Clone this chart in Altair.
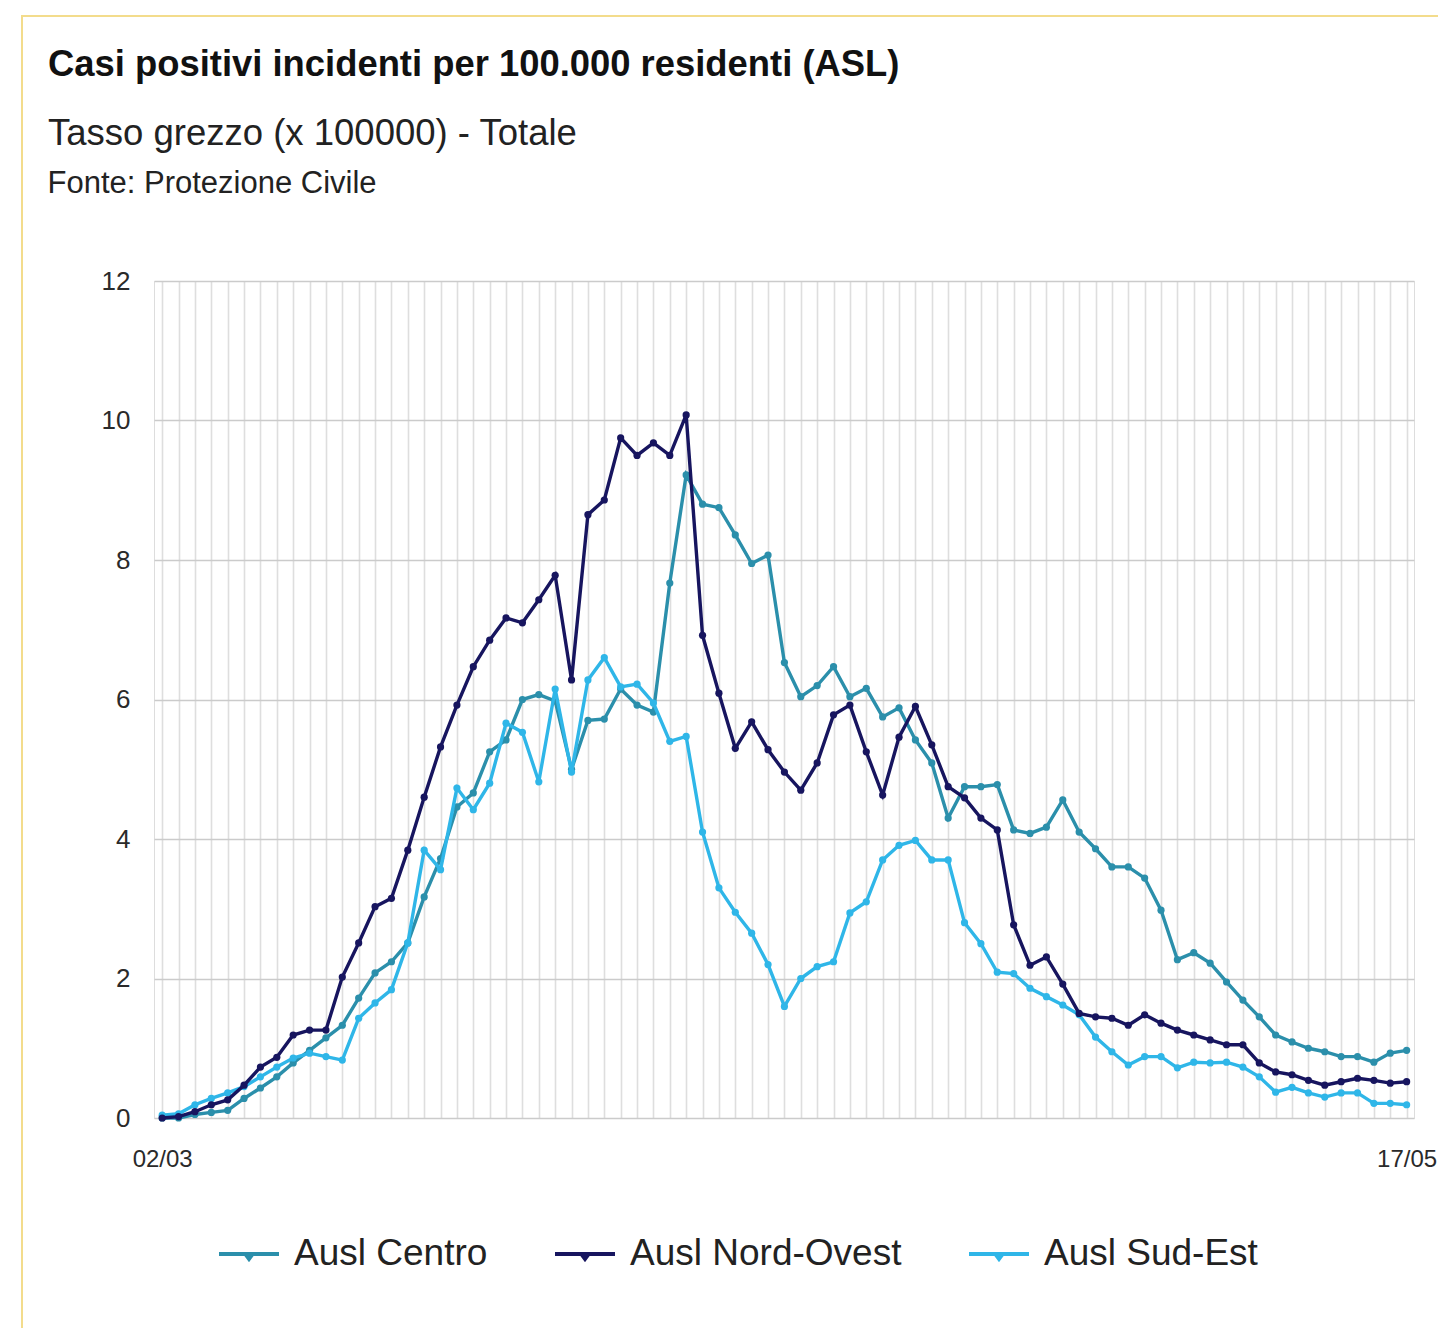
import altair as alt
import pandas as pd

# ---- data ----
series_names = ["Ausl Centro", "Ausl Nord-Ovest", "Ausl Sud-Est"]
series_colors = ["#2b8fab", "#17155f", "#2fb6e8"]

dates = pd.date_range("2020-03-02", "2020-05-17", freq="D").strftime("%d/%m").tolist()
x_tick_labels = ["02/03", "17/05"]
y_ticks = [0, 2, 4, 6, 8, 10, 12]

centro = [0.0, 0.0, 0.05, 0.08, 0.11, 0.28, 0.43, 0.59, 0.79, 0.97,
          1.15, 1.33, 1.72, 2.08, 2.24, 2.51, 3.17, 3.72, 4.46, 4.66,
          5.25, 5.42, 6.0, 6.07, 5.98, 5.0, 5.7, 5.72, 6.15, 5.92,
          5.82, 7.67, 9.22, 8.8, 8.75, 8.36, 7.95, 8.07, 6.53, 6.04,
          6.2, 6.47, 6.04, 6.16, 5.75, 5.88, 5.42, 5.09, 4.3, 4.75,
          4.75, 4.78, 4.13, 4.08, 4.17, 4.56, 4.1, 3.86, 3.6, 3.6,
          3.44, 2.98, 2.27, 2.37, 2.22, 1.95, 1.69, 1.45, 1.19, 1.09,
          1.0, 0.95, 0.88, 0.88, 0.8, 0.93, 0.97]

nord_ovest = [0.0, 0.02, 0.09, 0.19, 0.26, 0.47, 0.73, 0.87, 1.19, 1.26,
              1.26, 2.02, 2.51, 3.03, 3.15, 3.84, 4.6, 5.32, 5.92, 6.47,
              6.85, 7.17, 7.1, 7.43, 7.78, 6.28, 8.65, 8.86, 9.75, 9.5,
              9.68, 9.5, 10.08, 6.92, 6.09, 5.3, 5.68, 5.28, 4.96, 4.7,
              5.09, 5.78, 5.92, 5.25, 4.63, 5.46, 5.9, 5.35, 4.75, 4.59,
              4.3, 4.13, 2.77, 2.19, 2.31, 1.92, 1.5, 1.45, 1.43, 1.33,
              1.48, 1.36, 1.26, 1.19, 1.12, 1.05, 1.05, 0.79, 0.66, 0.62,
              0.54, 0.47, 0.52, 0.57, 0.54, 0.5, 0.52]

sud_est = [0.04, 0.06, 0.19, 0.28, 0.36, 0.45, 0.59, 0.73, 0.86, 0.93,
           0.88, 0.83, 1.43, 1.65, 1.84, 2.51, 3.84, 3.56, 4.73, 4.42,
           4.8, 5.66, 5.53, 4.82, 6.15, 4.96, 6.28, 6.6, 6.18, 6.22,
           5.95, 5.4, 5.47, 4.1, 3.3, 2.95, 2.65, 2.2, 1.6, 2.0,
           2.17, 2.24, 2.94, 3.1, 3.7, 3.91, 3.98, 3.7, 3.7, 2.8,
           2.5, 2.09, 2.07, 1.86, 1.74, 1.62, 1.48, 1.16, 0.95, 0.76,
           0.88, 0.88, 0.72, 0.8, 0.79, 0.8, 0.73, 0.59, 0.37, 0.44,
           0.36, 0.3, 0.36, 0.36, 0.21, 0.21, 0.19]

values_by_series = {
    "Ausl Centro": centro,
    "Ausl Nord-Ovest": nord_ovest,
    "Ausl Sud-Est": sud_est,
}

rows = []
for name, vals in values_by_series.items():
    for i, v in enumerate(vals):
        rows.append({"serie": name, "giorno": i, "data": dates[i], "valore": v})
df = pd.DataFrame(rows)

FONT = "Liberation Sans"
n_days = len(dates)

label_expr = (
    f"datum.value == 0 ? '{x_tick_labels[0]}' : "
    f"datum.value == {n_days - 1} ? '{x_tick_labels[1]}' : ''"
)

x_enc = alt.X(
    "giorno:Q",
    scale=alt.Scale(domain=[-0.5, n_days - 0.55], nice=False, zero=False),
    axis=alt.Axis(
        values=list(range(n_days)),
        labelExpr=label_expr,
        labelOverlap=False,
        grid=True,
        gridColor="#dedede",
        gridWidth=1.6,
        ticks=False,
        domain=False,
        labelFontSize=24,
        labelColor="#2a2a2a",
        labelFont=FONT,
        labelPadding=29,
        title=None,
    ),
)
y_enc = alt.Y(
    "valore:Q",
    scale=alt.Scale(domain=[0, 12], nice=False),
    axis=alt.Axis(
        values=y_ticks,
        grid=True,
        gridColor="#cbcbcb",
        gridWidth=1.4,
        ticks=False,
        domain=False,
        labelFontSize=26,
        labelColor="#2a2a2a",
        labelFont=FONT,
        labelPadding=24,
        title="Fonte: Protezione Civile",
        titleAngle=0,
        titleX=-107,
        titleY=-98,
        titleAlign="left",
        titleBaseline="middle",
        titleFontSize=31,
        titleFontWeight="normal",
        titleColor="#222222",
        titleFont=FONT,
    ),
)

color_scale = alt.Scale(domain=series_names, range=series_colors)

border = alt.Chart(pd.DataFrame({"k": [0]})).mark_rect(
    fill=None, stroke="#f3dc8c", strokeWidth=2
).encode(
    x=alt.value(-132), x2=alt.value(1400), y=alt.value(-265), y2=alt.value(1200)
)

layers = [border]
draw_order = ["Ausl Centro", "Ausl Sud-Est", "Ausl Nord-Ovest"]
for k, name in enumerate(draw_order):
    sub = df[df["serie"] == name]
    base = alt.Chart(sub)
    line = base.mark_line(strokeWidth=3.4).encode(
        x=x_enc,
        y=y_enc,
        color=alt.Color(
            "serie:N",
            scale=color_scale,
            legend=alt.Legend(
                orient="none",
                legendX=63,
                legendY=941,
                direction="horizontal",
                title=None,
                symbolType="M-1,0H1M-0.12,0L0.12,0L0,0.16Z",
                symbolSize=3600,
                symbolStrokeWidth=4,
                labelFontSize=37,
                labelFont=FONT,
                labelColor="#222222",
                labelOffset=13,
                labelLimit=0,
                columnPadding=59,
                padding=0,
            ),
        ),
    )
    pts = base.mark_point(filled=True, size=52, opacity=1).encode(
        x=x_enc,
        y=y_enc,
        color=alt.Color("serie:N", scale=color_scale, legend=None),
    )
    layers += [line, pts]

chart = alt.layer(*layers).properties(
    width=1260,
    height=837,
    autosize=alt.AutoSizeParams(type="none"),
    padding={"left": 146, "top": 273, "right": 24, "bottom": 210},
    title=alt.TitleParams(
        text="Casi positivi incidenti per 100.000 residenti (ASL)",
        subtitle="Tasso grezzo (x 100000) - Totale",
        anchor="start",
        frame="group",
        dx=-106,
        offset=-137,
        font=FONT,
        fontSize=36.4,
        fontWeight="bold",
        color="#111111",
        subtitleFont=FONT,
        subtitleFontSize=36.5,
        subtitleColor="#222222",
        subtitlePadding=32,
    ),
).configure_view(stroke=None).configure(background="white")

chart.save("out.html", embed_options={"renderer": "svg", "actions": False})
